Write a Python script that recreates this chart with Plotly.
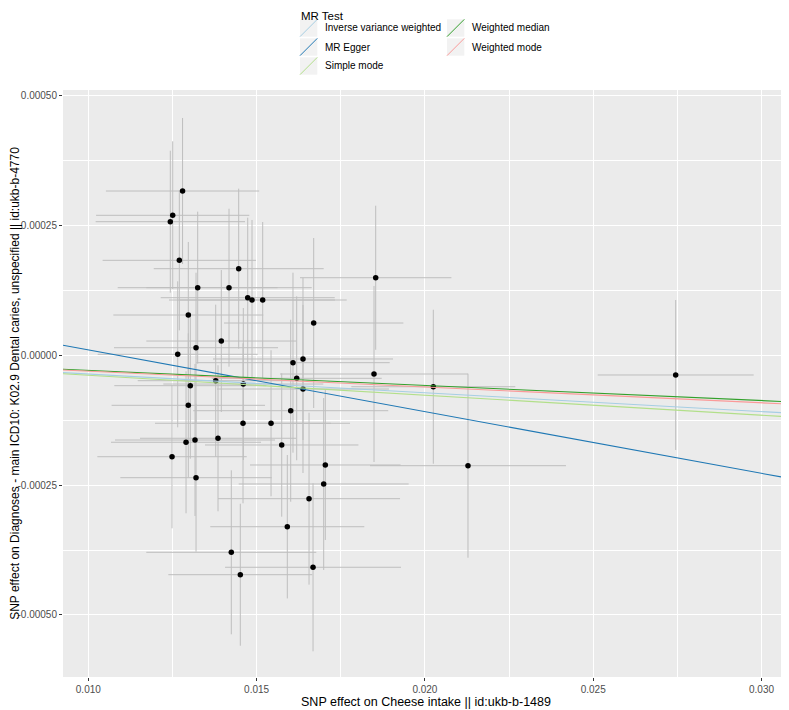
"""MR scatter plot: SNP effects on cheese intake vs dental caries, with MR fits."""

import numpy as np
import plotly.graph_objects as go

# SNP-exposure effects (cheese intake) and their standard errors
snp_beta_exposure = [
    0.01280, 0.012507, 0.012436, 0.012704, 0.014468, 0.013250, 0.014180, 0.014736,
    0.014863, 0.015181, 0.018538, 0.012971, 0.016696, 0.013951, 0.013200, 0.012656,
    0.016378, 0.016081, 0.018488, 0.016191, 0.013785, 0.014605, 0.013030, 0.016378,
    0.012971, 0.016013, 0.014596, 0.015428, 0.013170, 0.012903, 0.013853, 0.015746,
    0.012487, 0.017041, 0.016993, 0.016557, 0.013200, 0.015912, 0.014248, 0.016676,
    0.014516, 0.020250, 0.021280, 0.027451,
]
snp_se_exposure = [
    0.002276, 0.002276, 0.002219, 0.002279, 0.002525, 0.002377, 0.002457, 0.002585,
    0.002466, 0.002496, 0.002249, 0.002228, 0.002665, 0.002228, 0.002436, 0.002377,
    0.002674, 0.002873, 0.002793, 0.002525, 0.002317, 0.002377, 0.002258, 0.002555,
    0.002279, 0.002897, 0.002614, 0.002347, 0.002377, 0.002228, 0.002317, 0.002279,
    0.002219, 0.002237, 0.002525, 0.002704, 0.002249, 0.002288, 0.002525, 0.002614,
    0.002139, 0.002436, 0.002911, 0.002317,
]
# SNP-outcome effects (dental caries) and their standard errors
snp_beta_outcome = [
    0.0003164, 0.0002696, 0.0002573, 0.0001829, 0.0001668, 0.0001302, 0.0001302, 0.0001109,
    0.0001065, 0.0001065, 0.0001494, 0.0000776, 0.0000622, 0.0000275, 0.0000146, 0.0000019,
    -0.0000071, -0.0000142, -0.0000360, -0.0000443, -0.0000489, -0.0000553, -0.0000585, -0.0000649,
    -0.0000963, -0.0001067, -0.0001309, -0.0001309, -0.0001631, -0.0001675, -0.0001598, -0.0001727,
    -0.0001953, -0.0002112, -0.0002478, -0.0002761, -0.0002357, -0.0003301, -0.0003794, -0.0004082,
    -0.0004225, -0.0000605, -0.0002126, -0.0000379,
]
snp_se_outcome = [
    0.0001406, 0.0001425, 0.0001367, 0.0001348, 0.0001541, 0.0001464, 0.0001521, 0.0001541,
    0.0001541, 0.0001502, 0.0001387, 0.0001406, 0.0001637, 0.0001367, 0.0001444, 0.0001406,
    0.0001560, 0.0001733, 0.0001695, 0.0001579, 0.0001464, 0.0001464, 0.0001406, 0.0001618,
    0.0001387, 0.0001752, 0.0001541, 0.0001406, 0.0001464, 0.0001367, 0.0001406, 0.0001381,
    0.0001379, 0.0001444, 0.0001656, 0.0001656, 0.0001425, 0.0001381, 0.0001579, 0.0001618,
    0.0001367, 0.0001483, 0.0001772, 0.0001444,
]

# MR estimates (slope, intercept) per method
methods = ["Inverse variance weighted", "MR Egger", "Simple mode", "Weighted median", "Weighted mode"]
method_slopes = [-0.003613, -0.011891, -0.003844, -0.002905, -0.003049]
method_intercepts = [0.0, 0.0001294, 0.0, 0.0, 0.0]

method_colors = ["#a6cee3", "#1f78b4", "#b2df8a", "#33a02c", "#fb9a99"]

x_title = "SNP effect on Cheese intake || id:ukb-b-1489"
y_title = "SNP effect on Diagnoses - main ICD10: K02.9 Dental caries, unspecified || id:ukb-b-4770"

# The page body has an 8px margin, so the figure is laid out 8px in from the
# window's top-left corner; sizes below are chosen so the panel lands right.
PAGE_W, PAGE_H, BODY = 789, 710, 8
W, H = PAGE_W - BODY, PAGE_H - BODY
PANEL_L, PANEL_T, PANEL_B = 63, 90, 677          # panel edges in window pixels
M_L, M_R, M_T, M_B = PANEL_L - BODY, 0, PANEL_T - BODY, PAGE_H - PANEL_B
X_RANGE = [0.009248, 0.030817]
Y_RANGE = [-0.0006195, 0.0005109]
FONT = "Liberation Sans, Arial, sans-serif"

fig = go.Figure()

fig.add_trace(go.Scatter(
    x=snp_beta_exposure, y=snp_beta_outcome, mode="markers",
    marker=dict(color="black", size=5.5),
    error_x=dict(type="data", array=snp_se_exposure, color="#BEBEBE", thickness=1, width=0),
    error_y=dict(type="data", array=snp_se_outcome, color="#BEBEBE", thickness=1, width=0),
    showlegend=False, hoverinfo="skip",
))

xs = np.array(X_RANGE)
for name, slope, icpt, color in zip(methods, method_slopes, method_intercepts, method_colors):
    fig.add_trace(go.Scatter(
        x=xs, y=icpt + slope * xs, mode="lines", name=name,
        line=dict(color=color, width=1.1), showlegend=False,
    ))

# ggplot-style legend: grey keys with a diagonal line, two columns
plot_w, plot_h = W - M_L - M_R, H - M_T - M_B


def px_to_paper(px, py):
    """Window pixel -> paper coordinates."""
    return (px - PANEL_L) / plot_w, (PANEL_B - py) / plot_h


key = 17.3
col_x = [300.0, 447.0]
row_y = [28.0, 47.0, 66.0]
shapes = []
annotations = []
for i, (name, color) in enumerate(zip(methods, method_colors)):
    col, row = (0, i) if i < 3 else (1, i - 3)
    kx0, ky0 = col_x[col], row_y[row] - key / 2
    x0, y1 = px_to_paper(kx0, ky0)
    x1, y0 = px_to_paper(kx0 + key, ky0 + key)
    shapes.append(dict(type="rect", xref="paper", yref="paper", x0=x0, x1=x1, y0=y0, y1=y1,
                       fillcolor="#F2F2F2", line=dict(width=0), layer="above"))
    shapes.append(dict(type="line", xref="paper", yref="paper", x0=x0, x1=x1, y0=y0, y1=y1,
                       line=dict(color=color, width=1), layer="above"))
    tx, ty = px_to_paper(kx0 + key + 5.5, row_y[row])
    annotations.append(dict(xref="paper", yref="paper", x=tx, y=ty, text=name, showarrow=False,
                            xanchor="left", yanchor="middle",
                            font=dict(family=FONT, size=10, color="black")))
# legend title sits just inside the figure's top edge (page starts 8px down)
tx, ty = px_to_paper(299, BODY)
annotations.append(dict(xref="paper", yref="paper", x=tx, y=ty, text="MR Test", showarrow=False,
                        xanchor="left", yanchor="top", font=dict(family=FONT, size=11.5, color="black")))

fig.update_xaxes(
    range=X_RANGE, tickvals=[0.010, 0.015, 0.020, 0.025, 0.030],
    ticktext=["0.010", "0.015", "0.020", "0.025", "0.030"],
    showgrid=True, gridcolor="white", gridwidth=1.1, zeroline=False,
    minor=dict(tickvals=[0.0125, 0.0175, 0.0225, 0.0275], showgrid=True, gridcolor="white", gridwidth=0.6),
    ticks="outside", ticklen=3, tickcolor="#333333", tickwidth=1,
    tickfont=dict(family=FONT, size=10, color="#4D4D4D"),
    title=dict(text=x_title, font=dict(family=FONT, size=12.5, color="black"), standoff=2),
    automargin=False, showline=False,
)
fig.update_yaxes(
    range=Y_RANGE, tickvals=[-0.0005, -0.00025, 0.0, 0.00025, 0.0005],
    ticktext=["-0.00050", "-0.00025", "0.00000", "0.00025", "0.00050"],
    showgrid=True, gridcolor="white", gridwidth=1.1, zeroline=False,
    minor=dict(tickvals=[-0.000375, -0.000125, 0.000125, 0.000375], showgrid=True, gridcolor="white", gridwidth=0.6),
    ticks="outside", ticklen=3, tickcolor="#333333", tickwidth=1,
    tickfont=dict(family=FONT, size=10, color="#4D4D4D"),
    title=dict(text=y_title, font=dict(family=FONT, size=12, color="black"), standoff=0),
    automargin=False, showline=False,
)
fig.update_layout(
    width=W, height=H, autosize=False,
    margin=dict(l=M_L, r=M_R, t=M_T, b=M_B, pad=0),
    paper_bgcolor="white", plot_bgcolor="#EBEBEB",
    shapes=shapes, annotations=annotations, showlegend=False,
    font=dict(family=FONT),
)

fig.write_html("out.html")
